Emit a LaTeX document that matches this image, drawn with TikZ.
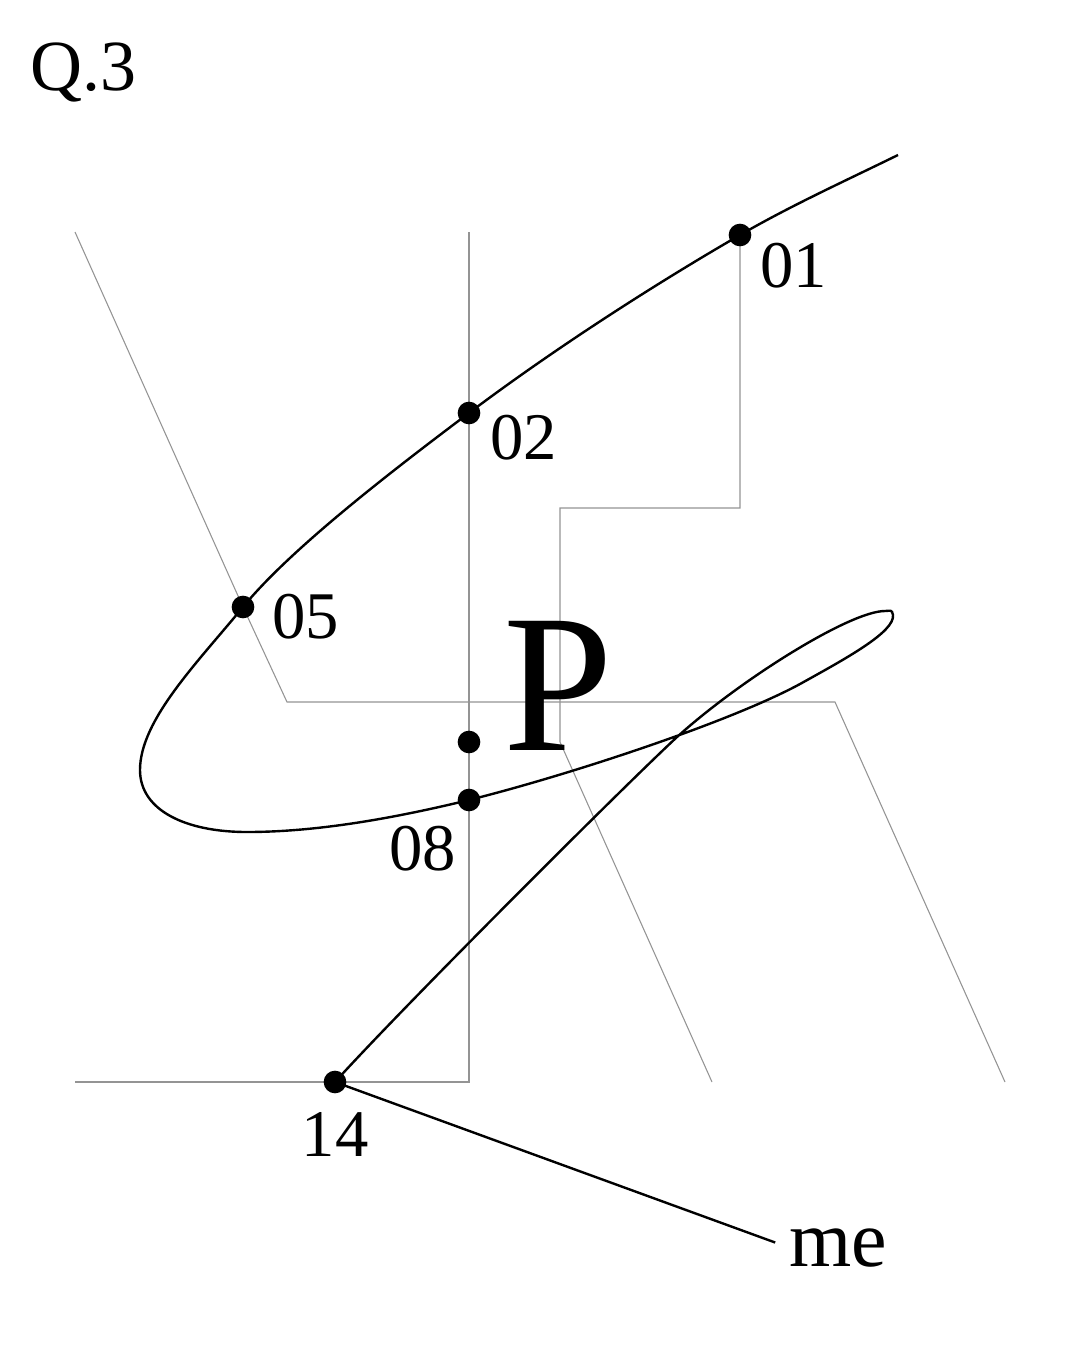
\documentclass[tikz,border=0pt]{standalone}
\usepackage{fontspec}
\setmainfont{Liberation Serif}
\usetikzlibrary{positioning}
\tikzset{
    %Define style for the grey guide lines
    guide/.style={
           draw=black!42,
           line width=0.8pt},
    %Define style for the black curve
    trace/.style={
           draw=black,
           line width=1.8pt},
    %Define style for the points
    dot/.style={
           circle,
           fill=black,
           inner sep=0pt,
           minimum size=17pt},
    %Define style for the labels
    lbl/.style={
           inner sep=0pt,
           outer sep=0pt,
           font=\fontsize{50}{60}\selectfont},
    titlelbl/.style={
           lbl,
           font=\fontsize{54}{64}\selectfont},
    biglbl/.style={
           lbl,
           font=\fontsize{148}{170}\selectfont},
    melbl/.style={
           lbl,
           font=\fontsize{60}{72}\selectfont}
}

\begin{document}
\begin{tikzpicture}[x=0.75pt,y=-0.75pt]
\useasboundingbox (0,0) rectangle (1080,1350);
\coordinate (p01) at (740,235);
\coordinate (p02) at (469,413);
\coordinate (p05) at (243,607);
\coordinate (pp) at (469,742);
\coordinate (p08) at (469,800);
\coordinate (p14) at (335,1082);
% guide lines
\draw[guide] (75,232) -- (p05) -- (287,702) -- (835,702) -- (1005,1082);
\draw[guide] (469,232) -- (p02) -- (pp) -- (p08) -- (469,1082) -- (75,1082);
\draw[guide] (p01) -- (740,508) -- (560,508) -- (560,742) -- (712,1082);
% curve
\draw[trace] (898,155) .. controls (845,181) and (792,205) .. (p01)
    .. controls (650,287) and (550,352) .. (p02)
    .. controls (381,479) and (288,552) .. (p05)
    .. controls (198,662) and (140,720) .. (140,770)
    .. controls (140,810) and (185,832) .. (247,832)
    .. controls (320,832) and (399,817) .. (p08)
    .. controls (569,775) and (730,722) .. (800,684)
    .. controls (845,659) and (895,632) .. (893,615)
    .. controls (892,609) and (890,611) .. (885,611)
    .. controls (850,611) and (740,680) .. (677,737)
    .. controls (620,790) and (400,1010) .. (p14);
% points
\node[dot] (d01) at (p01) {};
\node[dot] (d02) at (p02) {};
\node[dot] (d05) at (p05) {};
\node[dot] (dp) at (pp) {};
\node[dot] (d08) at (p08) {};
\node[dot] (d14) at (p14) {};
% labels
\node[titlelbl, anchor=base west] (title) at (31,90) {Q.3};
\node[lbl, below right=6pt and 15pt of p01] (l01) {01};
\node[lbl, below right=1.5pt and 15.75pt of p02] (l02) {02};
\node[lbl, below right=-9.75pt and 21.75pt of p05] (l05) {05};
\node[lbl, below left=19.5pt and 9.75pt of p08] (l08) {08};
\node[lbl, below=22.5pt of p14] (l14) {14};
\node[biglbl, anchor=south west] (lp) at (503,750) {P};
\node[melbl, anchor=base west] (me) at (789,1266) {me};
\draw[trace] (d14.center) -- (me.west) [shorten >=11pt];
\end{tikzpicture}
\end{document}
